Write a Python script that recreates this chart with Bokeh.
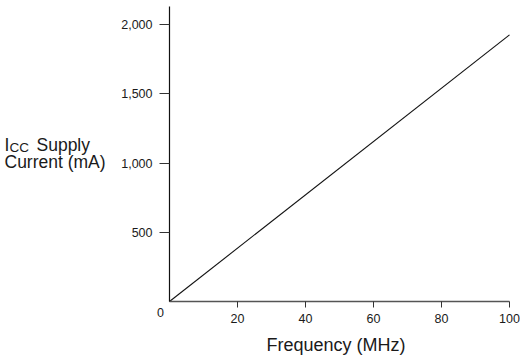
from bokeh.plotting import figure
from bokeh.models import Range1d, FixedTicker, Label
from bokeh.embed import file_html
from bokeh.resources import INLINE

# Data
frequency_mhz = [0, 100]
icc_ma = [0, 1925]
x_ticks = [20, 40, 60, 80, 100]
y_ticks = [500, 1000, 1500, 2000]
y_tick_labels = {500: "500", 1000: "1,000", 1500: "1,500", 2000: "2,000"}

FONT = "Liberation Sans"
TXT = "#1a1a1a"

W, H = 520, 355
# pixel geometry of the plot area (origin and scale)
X0_PX, X100_PX = 169.0, 509.0
Y0_PX, Y2000_PX = 301.0, 24.0
xs = (X100_PX - X0_PX) / 100.0
ys = (Y0_PX - Y2000_PX) / 2000.0

p = figure(width=W, height=H, output_backend="svg", toolbar_location=None,
           x_range=Range1d(-X0_PX / xs, 100 + (W - X100_PX) / xs),
           y_range=Range1d(-(H - Y0_PX) / ys, Y0_PX / ys),
           min_border=0)
p.outline_line_color = None
p.grid.visible = False
p.background_fill_color = "white"
p.border_fill_color = "white"

p.line(frequency_mhz, icc_ma, line_color="#111111", line_width=1.1)

# x axis
xa = p.xaxis[0]
xa.fixed_location = 0
xa.bounds = (0, 100)
xa.ticker = FixedTicker(ticks=x_ticks)
xa.major_tick_out = 6
xa.major_tick_in = 0
xa.minor_tick_out = 0
xa.minor_tick_in = 0
xa.axis_line_color = "#555555"
xa.axis_line_width = 1.4
xa.major_tick_line_color = "#333333"
xa.major_label_text_font = FONT
xa.major_label_text_font_size = "12.5px"
xa.major_label_text_color = TXT
xa.major_label_standoff = 6

# y axis
ya = p.yaxis[0]
ya.fixed_location = 0
ya.bounds = (0, (Y0_PX - 6) / ys)
ya.ticker = FixedTicker(ticks=y_ticks)
ya.major_label_overrides = y_tick_labels
ya.major_tick_out = 10
ya.major_tick_in = 0
ya.minor_tick_out = 0
ya.minor_tick_in = 0
ya.axis_line_color = "#111111"
ya.axis_line_width = 1.2
ya.major_tick_line_color = "#333333"
ya.major_label_text_font = FONT
ya.major_label_text_font_size = "12.5px"
ya.major_label_text_color = TXT
ya.major_label_standoff = 7

def add_label(text, dx, dy, size, align="left", baseline="alphabetic"):
    p.add_layout(Label(x=0, y=0, x_offset=dx, y_offset=dy, text=text,
                       text_font=FONT, text_font_size=size, text_color=TXT,
                       text_align=align, text_baseline=baseline))

# origin "0"
add_label("0", -9, -11, "12.5px", align="center")
# y axis title
add_label("I", -165, 157, "17.5px")
add_label("CC", -160, 154, "13.5px")
add_label("Supply", -133, 157, "17.5px")
add_label("Current (mA)", -165, 140, "17.5px")
# x axis title
add_label("Frequency (MHz)", 97, -43, "18px")

open("out.html", "w").write(file_html(p, INLINE))
